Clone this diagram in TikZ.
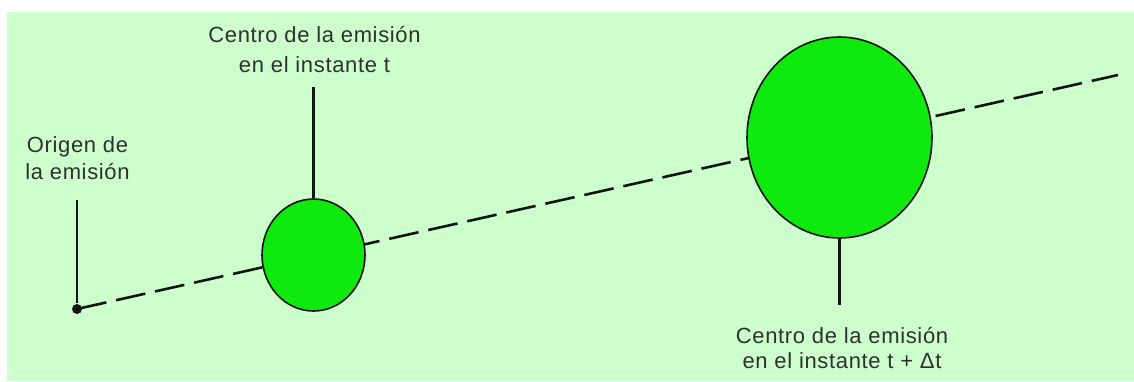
\documentclass[tikz,border=0pt]{standalone}
\usepackage{fontspec}
\setmainfont{Liberation Sans}
\usetikzlibrary{shapes.geometric}
\definecolor{cpaper}{HTML}{CCFFCC}
\definecolor{cblob}{HTML}{0EEA0E}
\definecolor{cink}{HTML}{303030}
\definecolor{cline}{HTML}{141414}
\tikzset{
  every picture/.style={line width=2pt},
  blob/.style={ellipse, draw=cline, fill=cblob, line width=1.6pt, inner sep=0pt},
  lbl/.style={font=\fontsize{22}{25}\selectfont\addfontfeature{LetterSpace=3}, text=cink, align=center, inner sep=0pt},
  leader/.style={draw=cline, line width=2.4pt},
  track/.style={draw=cline, line width=2.6pt, dash pattern=on 30pt off 10pt},
}

\begin{document}
\begin{tikzpicture}[x=1pt, y=-1pt]
  \useasboundingbox (0,0) rectangle (1134,381);
  \fill[cpaper] (7,12) rectangle (1134,381);

  % ---- origin and track
  \node[circle, fill=cline, inner sep=0pt, minimum size=10pt] (ori) at (77,309) {};
  \coordinate (far) at (1118,75);
  \draw[track] (ori.center) -- (far);

  % ---- emission at t and at t + dt
  \node[blob, minimum width=103pt, minimum height=112pt] (small) at (313.5,255) {};
  \node[blob, minimum width=185pt, minimum height=201pt] (big) at (839.5,137.5) {};

  % ---- labels
  \node[lbl] (lori)   at (77.5,158) {Origen de\\[2pt]la emisión};
  \node[lbl] (lsmall) at (314.5,50) {Centro de la emisión\\[5pt]en el instante t};
  \node[lbl] (lbig)   at (842,348)  {Centro de la emisión\\en el instante t + Δt};

  \coordinate (tori)   at (77,200);
  \coordinate (tsmall) at (313.5,87);
  \coordinate (tbig)   at (839.5,305);
  \draw[leader] (tori) -- (ori);
  \draw[leader] (tsmall) -- (small.north);
  \draw[leader] (big.south) -- (tbig);
\end{tikzpicture}
\end{document}
